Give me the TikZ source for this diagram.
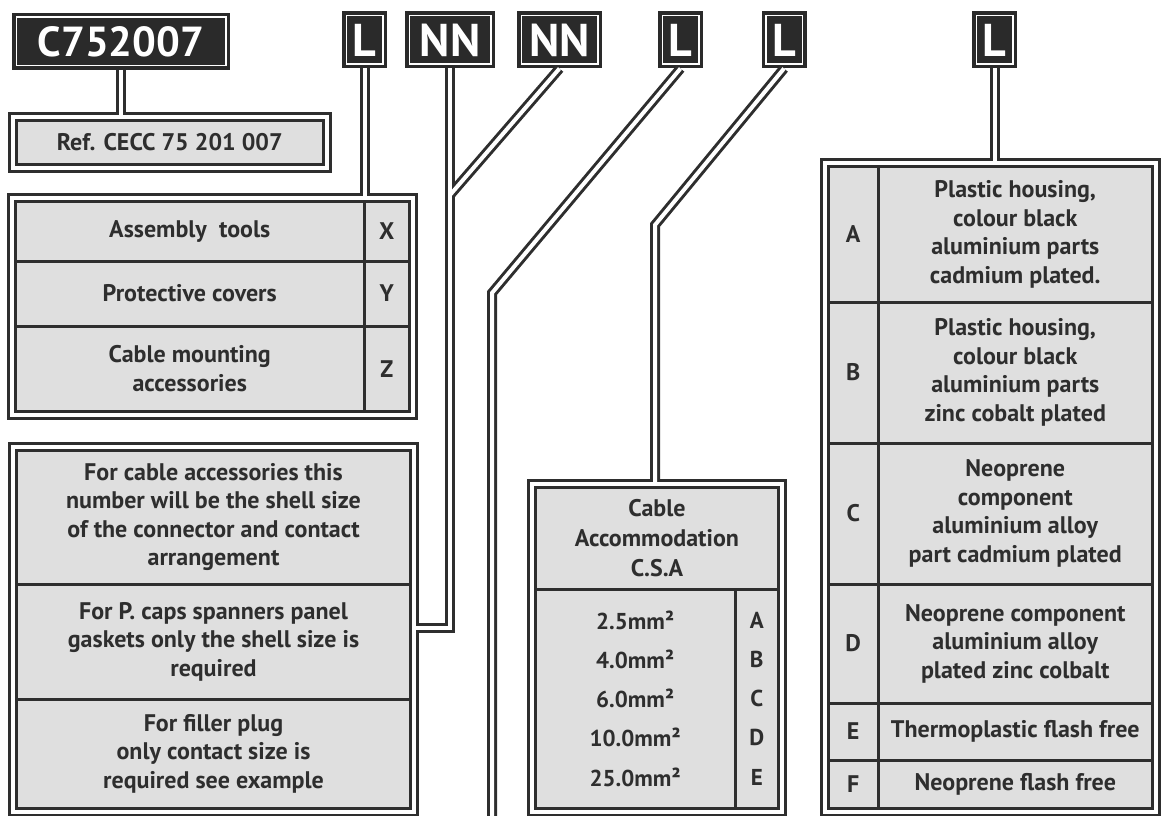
\documentclass[tikz,border=0pt]{standalone}
\usepackage{fontspec}
\setmainfont{PT Sans}
\usetikzlibrary{fit}

\definecolor{ink}{HTML}{2E2E2E}
\definecolor{cellgray}{HTML}{DFDFDF}
\definecolor{tagfill}{HTML}{2A2A2A}

\tikzset{
    tagbox/.style={draw=tagfill, double=white, double distance=1.5pt, line width=3.5pt,
        fill=tagfill, text=white, font=\fontsize{46}{46}\selectfont\bfseries,
        inner sep=0pt, outer sep=4.25pt, minimum height=48.5pt},
    cell/.style={draw=ink, line width=3pt, fill=cellgray, inner sep=0pt, outer sep=0pt,
        text=ink, align=center, font=\fontsize{24}{28.5}\selectfont\bfseries},
    frame/.style={draw=ink, double=white, double distance=4pt, line width=3pt,
        inner sep=3.5pt, outer sep=0pt},
    wire/.style={draw=ink, line width=10pt},
    wirecore/.style={draw=white, line width=4pt},
}

% 表格单元: [选项]{名称}{x1}{y1}{x2}{y2}{文字}
\newcommand{\tablecell}[7][]{%
    \node[cell, #1, minimum width={(#5-#3)*1pt}, minimum height={(#6-#4)*1pt}]
        (#2) at ({(#3+#5)/2},{(#4+#6)/2}) {#7};}

\begin{document}
\begin{tikzpicture}[x=1pt, y=-1pt]
    % 画布范围
    \useasboundingbox (0,0) rectangle (1163,816);

    % 顶部编号框
    \node[tagbox, minimum width=209.5pt, font=\fontsize{42}{42}\selectfont\bfseries] (code) at (121,41.5) {C752007};
    \node[tagbox, minimum width=36.5pt] (tagL1) at (364.5,40) {L};
    \node[tagbox, minimum width=81.5pt] (tagNN1) at (450,40) {NN};
    \node[tagbox, minimum width=76.5pt] (tagNN2) at (559.5,40) {NN};
    \node[tagbox, minimum width=36.5pt] (tagL2) at (680.5,40) {L};
    \node[tagbox, minimum width=36.5pt] (tagL3) at (784,40) {L};
    \node[tagbox, minimum width=36.5pt] (tagL4) at (994.5,40) {L};

    % 参考号
    \tablecell{ref}{16}{120.5}{323.5}{164.5}{Ref. CECC 75 201 007}
    \node[frame, fit=(ref)] (refbox) {};

    % 附件类型表
    \tablecell{tool1}{15.5}{201.5}{364}{261}{Assembly\ \ tools}
    \tablecell{toolX}{364}{201.5}{409.5}{261}{X}
    \tablecell{tool2}{15.5}{261}{364}{326}{Protective covers}
    \tablecell{toolY}{364}{261}{409.5}{326}{Y}
    \tablecell{tool3}{15.5}{326}{364}{411.5}{Cable mounting\\accessories}
    \tablecell{toolZ}{364}{326}{409.5}{411.5}{Z}
    \node[frame, fit=(tool1) (toolZ)] (tools) {};

    % 壳体尺寸说明
    \tablecell{shell1}{16.5}{450.5}{410.5}{584}{For cable accessories this\\number will be the shell size\\of the connector and contact\\arrangement}
    \tablecell{shell2}{16.5}{584}{410.5}{699}{For P. caps spanners panel\\gaskets only the shell size is\\required}
    \tablecell{shell3}{16.5}{699}{410.5}{808}{For filler plug\\only contact size is\\required see example}
    \node[frame, fit=(shell1) (shell3)] (shell) {};

    % 电缆截面
    \tablecell[font=\fontsize{24}{30}\selectfont\bfseries]{csaHead}{535.5}{487.5}{778.5}{589}{Cable\\Accommodation\\C.S.A}
    \tablecell[font=\fontsize{23}{39.3}\selectfont\bfseries]{csaSize}{535.5}{589}{735}{808}{2.5mm²\\4.0mm²\\6.0mm²\\10.0mm²\\25.0mm²}
    \tablecell[font=\fontsize{23}{39.3}\selectfont\bfseries]{csaCode}{735}{589}{778.5}{808}{A\\B\\C\\D\\E}
    \node[frame, fit=(csaHead) (csaSize) (csaCode)] (csa) {};

    % 材料表
    \tablecell{matA}{828.5}{166.5}{878}{302}{A}
    \tablecell{matTxtA}{878}{166.5}{1152.5}{302}{Plastic housing,\\colour black\\aluminium parts\\cadmium plated.}
    \tablecell{matB}{828.5}{302}{878}{443}{B}
    \tablecell{matTxtB}{878}{302}{1152.5}{443}{Plastic housing,\\colour black\\aluminium parts\\zinc cobalt plated}
    \tablecell{matC}{828.5}{443}{878}{584}{C}
    \tablecell{matTxtC}{878}{443}{1152.5}{584}{Neoprene\\component\\aluminium alloy\\part cadmium plated}
    \tablecell{matD}{828.5}{584}{878}{703}{D}
    \tablecell{matTxtD}{878}{584}{1152.5}{703}{Neoprene component\\aluminium alloy\\plated zinc colbalt}
    \tablecell{matE}{828.5}{703}{878}{760}{E}
    \tablecell{matTxtE}{878}{703}{1152.5}{760}{Thermoplastic flash free}
    \tablecell{matF}{828.5}{760}{878}{808}{F}
    \tablecell{matTxtF}{878}{760}{1152.5}{808}{Neoprene flash free}
    \node[frame, fit=(matA) (matTxtF)] (mat) {};

    % 连线拐点
    \coordinate (nnJoin) at (450,195);
    \coordinate (nnTurn) at (450,628);
    \coordinate (lBend) at (492,293);
    \coordinate (lEnd) at (492,830);
    \coordinate (csaBend) at (655,225);

    % 双线连线:先画深色,再画白色芯线
    \foreach \pass in {wire, wirecore}{
        \draw[\pass] (code.south) -- (code.south |- refbox.north);
        \draw[\pass] (tagL1.south) -- (tagL1.south |- tools.north);
        \draw[\pass] (tagNN1.south) -- (nnTurn) -- (nnTurn -| shell.east);
        \draw[\pass] (tagNN2.south) -- (nnJoin);
        \draw[\pass] (tagL2.south) -- (lBend) -- (lEnd);
        \draw[\pass] (tagL3.south) -- (csaBend) -- (csaBend |- csa.north);
        \draw[\pass] (tagL4.south) -- (tagL4.south |- mat.north);
    }

    % 外框的白色间隙
    \foreach \b in {refbox, tools, shell, csa, mat}
        \draw[wirecore] (\b.south west) rectangle (\b.north east);
\end{tikzpicture}
\end{document}
